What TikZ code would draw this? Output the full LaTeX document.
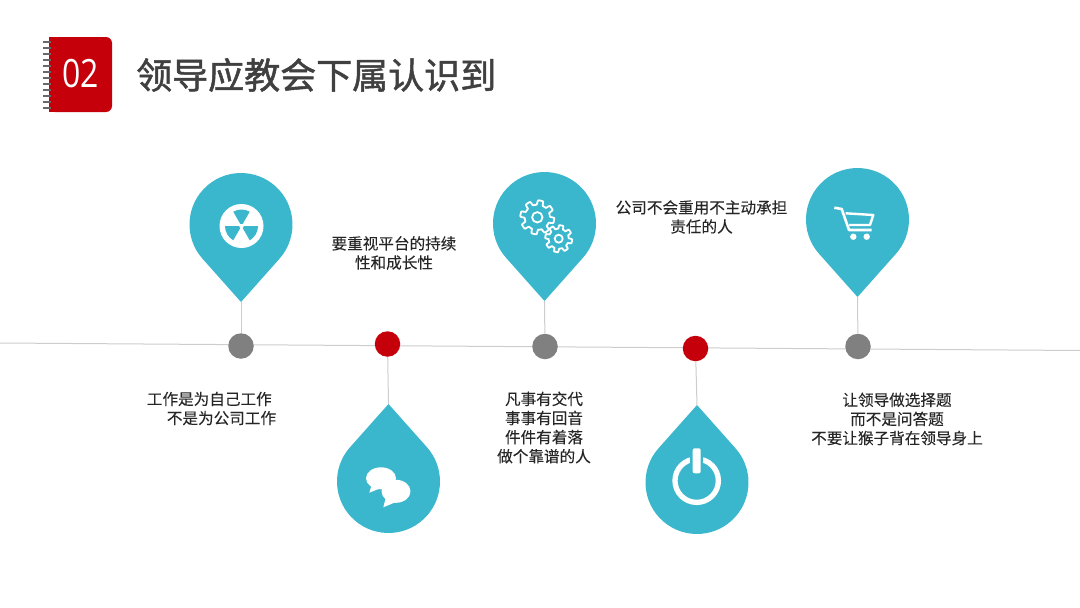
\documentclass[tikz,border=0pt]{standalone}
\usepackage{fontspec}
\setsansfont{Open Sans}
\newfontfamily\cjk[FakeBold=0.08]{Noto Sans CJK SC}
\newfontfamily\cjktitle[FakeBold=1.4]{Noto Sans CJK SC}
\usepackage{tikz}
\usetikzlibrary{calc,positioning}
\definecolor{dropblue}{RGB}{59,183,205}
\definecolor{markred}{RGB}{197,0,11}
\definecolor{markgray}{RGB}{128,128,128}
\definecolor{titlegray}{RGB}{64,64,64}
\definecolor{textdark}{RGB}{38,38,38}
\definecolor{ringgray}{RGB}{105,105,105}
\definecolor{linegray}{RGB}{205,205,205}
\tikzset{
    % Marks on the time line
    graydot/.style={circle, fill=markgray, minimum size=25.5pt, inner sep=0pt},
    reddot/.style={circle, fill=markred, minimum size=25.5pt, inner sep=0pt},
    % Pin bodies and their thin stems
    pinbody/.style={fill=dropblue},
    stem/.style={draw=linegray, line width=1pt},
    % Texts
    note/.style={font=\fontsize{15.6}{19.1}\selectfont\cjk, text=textdark, align=center, inner sep=0pt},
    icon/.style={fill=white},
}
% one gear outline: centre x, centre y, radius, hole radius
\newcommand{\gearicon}[4]{
  \draw[white,line width=1.8pt,line join=round] plot[domain=0:360,samples=161,smooth]
    ({#1+(#3-#3*0.13+#3*0.13*max(-1,min(1,3*sin(8*\x))))*cos(\x)},
     {#2+(#3-#3*0.13+#3*0.13*max(-1,min(1,3*sin(8*\x))))*sin(\x)}) -- cycle;
  \draw[white,line width=1.8pt] (#1,#2) circle[radius=#4];
}
\begin{document}
\begin{tikzpicture}[x=1pt,y=-1pt]
      \useasboundingbox (0,0) rectangle (1080,608);
      % time line
      \coordinate (start) at (0,343);
      \coordinate (end) at (1080,350.5);
      \draw[linegray,line width=1pt] (start) -- (end);
      \node[graydot] (dotA) at (241,346) {};
      \node[reddot] (dotB) at (387.5,344) {};
      \node[graydot] (dotC) at (545,346.5) {};
      \node[reddot] (dotD) at (695.5,348.5) {};
      \node[graydot] (dotE) at (858,346.5) {};
      % pin tips
      \coordinate (tipA) at (241,302);
      \coordinate (tipB) at (388.5,404);
      \coordinate (tipC) at (544.5,301);
      \coordinate (tipD) at (697,405);
      \coordinate (tipE) at (857.5,297);
      \foreach \a/\b in {dotA/tipA,dotB/tipB,dotC/tipC,dotD/tipD,dotE/tipE}
        \draw[stem] (\a) -- (\b);
      % pins pointing down, then up
      \foreach \t in {tipA,tipC,tipE}
        \fill[pinbody] (\t) -- ++(-38.7,-43.5) arc[start angle=138.7,end angle=401.3,radius=51.5] -- cycle;
      \foreach \t in {tipB,tipD}
        \fill[pinbody] (\t) -- ++(-38.7,43.5) arc[start angle=221.3,end angle=-41.3,radius=51.5] -- cycle;
      % notebook
      \fill[markred,rounded corners=6pt] (49,37) rectangle (112,112);
      \fill[markred] (49,37) rectangle (60,112);
      \foreach \y in {0,...,11}
        \draw[ringgray,line width=2.2pt] (43,{42+\y*6}) -- (51,{42+\y*6});
      \node[font=\fontsize{39}{39}\selectfont\sffamily, text=white, inner sep=0pt, xscale=0.82] (num) at (80.5,74) {02};
      \node[font=\fontsize{36}{36}\selectfont\cjktitle, text=titlegray, anchor=west, inner sep=0pt] (title) at (136,75) {领导应教会下属认识到};
      % radiation icon
      \fill[icon] (241.5,226) circle[radius=22];
      \foreach \s in {240,0,120}
        \fill[dropblue] (241.5,226) ++(\s:2.5) -- ++(\s:14) arc[start angle=\s,end angle=\s+60,radius=16.5] -- ($(241.5,226)+(\s+60:2.5)$) -- cycle;
      % gears
      \gearicon{537.3}{217.3}{17}{5.2}
      \gearicon{558.7}{238.7}{13.5}{4}
      % cart
      \draw[white,line width=2.6pt,line join=round] (834.3,207.7) -- (841.7,209) -- (849,230) -- (871.7,230);
      \draw[white,line width=2.4pt,line join=round] (845.7,213.3) -- (873.3,215) -- (870,225) -- (849,225);
      \fill[icon] (853.3,236.7) circle[radius=3.2];
      \fill[icon] (866.7,236.7) circle[radius=3.2];
      % speech bubbles
      \fill[icon] (381,478.3) ellipse[x radius=15,y radius=11];
      \fill[icon] (369.3,492.7) -- (372,484) -- (381,488) -- cycle;
      \fill[icon] (396,491.3) ellipse[x radius=14.5,y radius=11.5];
      \fill[icon] (383.3,507.3) -- (386,497) -- (396,502) -- cycle;
      % power icon
      \draw[white,line width=5.3pt] (696.7,480.7) circle[radius=21.7];
      \draw[dropblue,line width=12.5pt] (696.7,448) -- (696.7,470);
      \fill[icon,rounded corners=2pt] (692.7,448.3) rectangle (700.7,473.3);
      % texts
      \node[note,align=left] (textA) at (211.5,408.5) {工作是为自己工作\\\hspace*{20pt}不是为公司工作};
      \node[note] (textB) at (394,253) {要重视平台的持续\\性和成长性};
      \node[note] (textC) at (544,427.5) {凡事有交代\\事事有回音\\件件有着落\\做个靠谱的人};
      \node[note] (textD) at (701.5,217) {公司不会重用不主动承担\\责任的人};
      \node[note] (textE) at (897,419) {让领导做选择题\\而不是问答题\\不要让猴子背在领导身上};
    \end{tikzpicture}
\end{document}
